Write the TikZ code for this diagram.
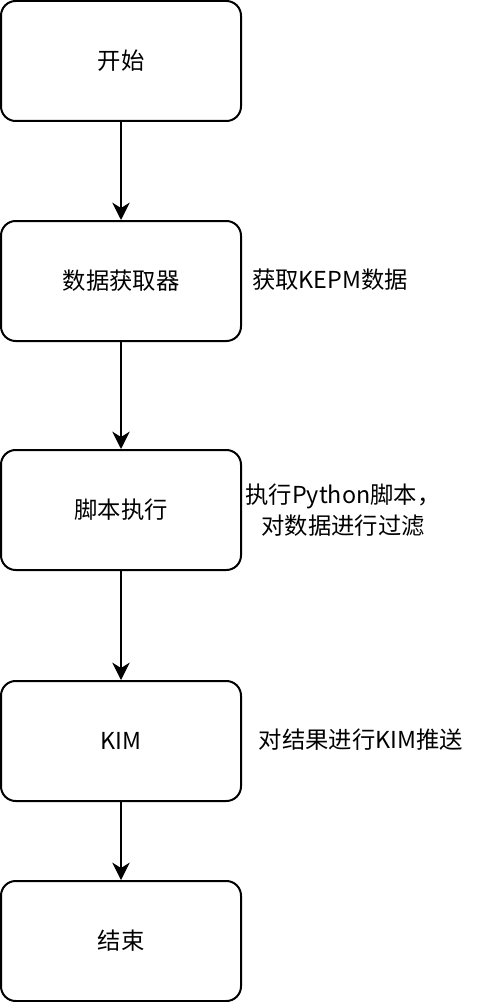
\documentclass[tikz,border=0pt]{standalone}
\usepackage{fontspec}
\setmainfont{Noto Sans CJK SC}
\usetikzlibrary{arrows.meta,positioning}

\begin{document}
\begin{tikzpicture}[x=0.75pt, y=-0.75pt, ->, >={Stealth[length=13pt, width=13pt, inset=4pt]},
  line width=1.5pt,
  every node/.style={font=\fontsize{17.5}{23}\selectfont},
  stepbox/.style={draw, rounded corners=11pt, minimum width=180pt, minimum height=90pt, inner sep=0pt},
  note/.style={align=center, inner sep=0pt}]
\path[use as bounding box] (0,0) rectangle (482,1002);
\node[stepbox] (start) at (121,61) {开始};
\node[stepbox] (fetch) at (121,281) {数据获取器};
\node[stepbox] (script) at (121,510) {脚本执行};
\node[stepbox] (kim) at (121,741) {KIM};
\node[stepbox] (stop) at (121,941) {结束};
\node[note] (fetchnote) at (330,280) {获取KEPM数据};
\node[note] (scriptnote) at (343,510) {执行Python脚本，\\ 对数据进行过滤};
\node[note] (kimnote) at (361,740) {对结果进行KIM推送};
\draw (start) -- (fetch);
\draw (fetch) -- (script);
\draw (script) -- (kim);
\draw (kim) -- (stop);
\end{tikzpicture}
\end{document}
